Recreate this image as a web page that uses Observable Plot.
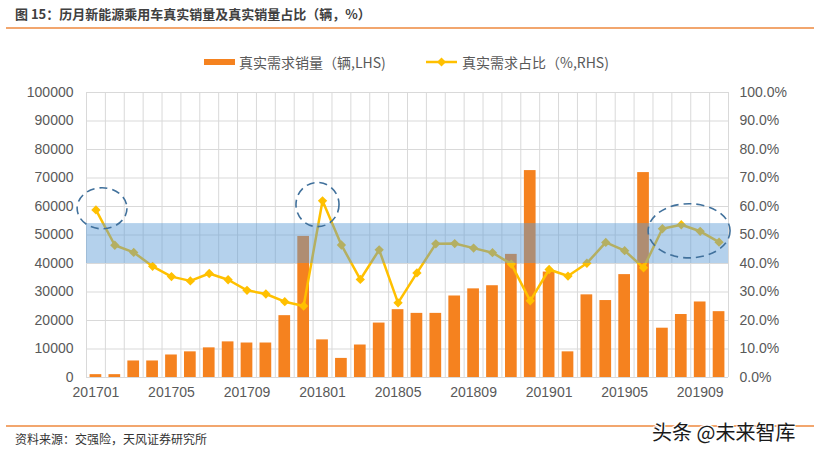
<!DOCTYPE html>
<html>
<head>
<meta charset="utf-8">
<script src="https://cdn.jsdelivr.net/npm/d3@7"></script>
<script src="https://cdn.jsdelivr.net/npm/@observablehq/plot@0.6"></script>
<style>
  html, body { margin: 0; padding: 0; background: #fff; }
  #page { position: relative; width: 814px; height: 457px; overflow: hidden; font-family: "Noto Sans CJK SC", "Noto Sans", sans-serif; }
  .abs { position: absolute; white-space: nowrap; }
  #title { left: 15px; top: 4px; font-size: 13px; line-height: 20px; font-weight: bold; color: #404040; }
  #titleRule { left: 6px; top: 27px; width: 808px; height: 2px; background: #F2A66E; }
  .legText { font-size: 14px; line-height: 20px; color: #595959; top: 52px; }
  #footRule { left: 6px; top: 425px; width: 808px; height: 2px; background: #F2A66E; }
  #source { left: 15px; top: 431px; font-size: 12px; line-height: 16px; color: #333; }
  #mark { left: 652px; top: 419px; font-size: 20px; line-height: 26px; color: #1a1a1a;
          text-shadow: -1px -1px 0 #fff, 1px -1px 0 #fff, -1px 1px 0 #fff, 1px 1px 0 #fff; }
  #chart { left: 0; top: 75px; }
</style>
</head>
<body>
<div id="page">
  <div id="title" class="abs">图 15：历月新能源乘用车真实销量及真实销量占比（辆，%）</div>
  <div id="titleRule" class="abs"></div>
  <div class="abs" style="left:204px;top:59px;width:31px;height:6px;background:#F5821F"></div>
  <div id="leg1" class="abs legText" style="left:239px">真实需求销量（辆,LHS)</div>
  <svg class="abs" style="left:424px;top:54px" width="36" height="16">
    <line x1="2" y1="8" x2="33" y2="8" stroke="#FFC000" stroke-width="2.5"/>
    <path d="M17.5,3.5L22,8L17.5,12.5L13,8Z" fill="#FFC000"/>
  </svg>
  <div id="leg2" class="abs legText" style="left:462px">真实需求占比（%,RHS)</div>
  <div id="chart" class="abs"></div>
  <div id="footRule" class="abs"></div>
  <div id="source" class="abs">资料来源：交强险，天风证券研究所</div>
  <div id="mark" class="abs">头条 @未来智库</div>
</div>
<script>
// ---- data ----
const months = [
  "201701","201702","201703","201704","201705","201706","201707","201708","201709","201710","201711","201712",
  "201801","201802","201803","201804","201805","201806","201807","201808","201809","201810","201811","201812",
  "201901","201902","201903","201904","201905","201906","201907","201908","201909","201910"
];
const sales = [
  1000, 1000, 5800, 5800, 7900, 9000, 10400, 12500, 12100, 12100, 21700, 49500,
  13200, 6700, 11400, 19100, 23800, 22500, 22500, 28600, 31100, 32200, 43200, 72600,
  37000, 9000, 29000, 27000, 36100, 71900, 17300, 22100, 26500, 23100
];
const share = [
  58.8, 46.4, 43.9, 39.0, 35.4, 33.9, 36.5, 34.3, 30.6, 29.3, 26.6, 25.1,
  62.0, 46.5, 34.4, 44.8, 26.2, 36.7, 46.9, 47.0, 45.4, 43.8, 39.8, 26.9,
  37.9, 35.6, 40.1, 47.4, 44.5, 38.5, 52.2, 53.6, 51.3, 47.5
];
const tickMonths = ["201701","201705","201709","201801","201805","201809","201901","201905","201909"];
const leftTicks = [0, 10000, 20000, 30000, 40000, 50000, 60000, 70000, 80000, 90000, 100000];
const rightTicks = [0, 10, 20, 30, 40, 50, 60, 70, 80, 90, 100];
// highlighted band (percent)
const bandLow = 40, bandHigh = 54;
// dashed ellipse annotations: center month, center percent, half-width in months, half-height in percent
const ellipseMonth = ["201701", "201801", "201908"];
const ellipseOffset = [0.35, -0.24, 0.44];
const ellipseShare = [59.2, 60.5, 51.3];
const ellipseRx = [1.32, 1.14, 2.17];
const ellipseRy = [7.2, 7.75, 9.5];

// ---- build ----
const K = 1000; // percent -> left-axis units (100% == 100000)
const data = months.map((m, i) => ({m, i, sales: sales[i], share: share[i]}));
const idx = m => months.indexOf(m);
const n = months.length;

const ellipses = (index, scales) => {
  const g = d3.create("svg:g");
  ellipseMonth.forEach((m, k) => {
    const cx = idx(m) + ellipseOffset[k];
    const cy = ellipseShare[k] * K;
    const px = scales.x(cx), py = scales.y(cy);
    g.append("ellipse")
      .attr("cx", px).attr("cy", py)
      .attr("rx", Math.abs(scales.x(cx + ellipseRx[k]) - px))
      .attr("ry", Math.abs(scales.y(cy + ellipseRy[k] * K) - py))
      .attr("fill", "none").attr("stroke", "#41719C")
      .attr("stroke-width", 1.6).attr("stroke-dasharray", "8,5");
  });
  return g.node();
};

const chart = Plot.plot({
  width: 814,
  height: 332,
  marginTop: 17,
  marginBottom: 30,
  marginLeft: 86,
  marginRight: 86,
  style: {fontFamily: "'Liberation Sans', Arial, sans-serif", fontSize: "14px", color: "#595959", background: "#fff"},
  x: {domain: [-0.5, n - 0.5]},
  y: {domain: [0, 100000]},
  marks: [
    Plot.ruleY(leftTicks, {stroke: "#D9D9D9", strokeWidth: 1}),
    Plot.ruleX(d3.range(n + 1), {x: d => d - 0.5, stroke: "#D9D9D9", strokeWidth: 1}),
    Plot.rectY(data, {x1: d => d.i - 0.31, x2: d => d.i + 0.31, y: "sales", fill: "#F5821F"}),
    Plot.line(data, {x: "i", y: d => d.share * K, stroke: "#FFC000", strokeWidth: 2.5}),
    Plot.dot(data, {x: "i", y: d => d.share * K, symbol: "diamond2", r: 4.2, fill: "#FFC000", stroke: "none"}),
    Plot.rect([{lo: bandLow, hi: bandHigh}], {x1: -0.5, x2: n - 0.5, y1: d => d.lo * K, y2: d => d.hi * K, fill: "#5B9BD5", fillOpacity: 0.46}),
    ellipses,
    Plot.axisY({ticks: leftTicks, tickSize: 0, tickPadding: 13, tickFormat: d3.format("d"), label: null}),
    Plot.axisY({anchor: "right", ticks: rightTicks.map(v => v * K), tickSize: 0, tickPadding: 11,
                tickFormat: d => (d / K).toFixed(1) + "%", label: null}),
    Plot.axisX({ticks: tickMonths.map(idx), tickSize: 0, tickPadding: 10,
                tickFormat: i => months[i], label: null})
  ]
});
document.getElementById("chart").appendChild(chart);
</script>
</body>
</html>
